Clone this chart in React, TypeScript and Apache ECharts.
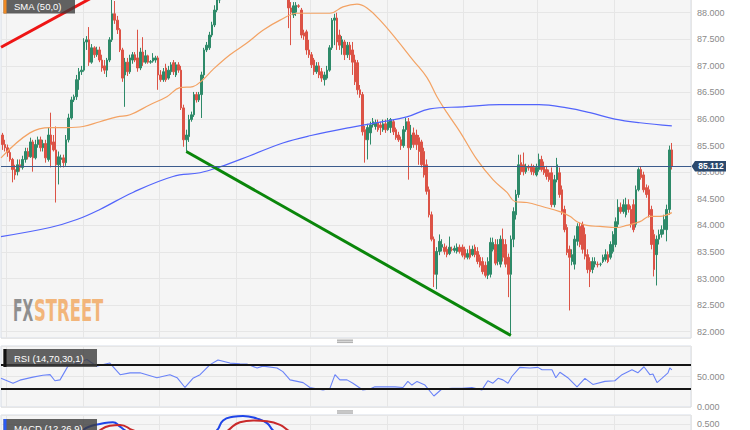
import React, { useEffect, useRef } from "react";
import * as echarts from "echarts";

// ---- candles: [open, close, low, high] ----
const candlesA: number[][] = [
  [85.70, 85.52, 85.42, 85.74], [85.52, 85.46, 85.39, 85.61], [85.46, 85.37, 85.29, 85.52], [85.37, 85.24, 85.20, 85.42], [85.24, 85.05, 84.81, 85.27],
  [85.05, 84.95, 84.86, 85.14], [85.01, 85.14, 84.94, 85.24], [85.14, 85.09, 85.01, 85.24], [85.09, 85.24, 85.05, 85.31], [85.24, 85.39, 85.18, 85.46],
  [85.39, 85.29, 85.24, 85.46], [85.29, 85.57, 85.27, 85.65], [85.57, 85.27, 85.01, 85.61], [85.27, 85.52, 85.24, 85.61], [85.52, 85.61, 85.46, 85.67],
  [85.61, 85.46, 85.39, 85.67], [85.46, 85.54, 85.39, 85.61], [85.54, 85.27, 85.18, 85.61], [85.24, 85.70, 85.20, 85.84], [85.70, 85.52, 85.09, 86.12],
  [85.57, 85.42, 85.39, 85.70], [85.42, 85.14, 84.43, 85.86], [85.14, 85.29, 84.77, 85.39], [85.24, 85.27, 85.09, 85.33], [85.27, 85.18, 85.09, 85.33],
  [85.18, 85.61, 85.12, 85.70], [85.61, 86.02, 85.56, 86.10], [86.02, 86.36, 85.99, 86.42], [86.36, 86.42, 86.32, 86.46], [86.42, 86.74, 86.36, 86.83],
  [86.74, 86.89, 86.55, 86.96], [86.89, 86.92, 86.83, 87.00], [86.92, 87.45, 86.89, 87.52], [87.45, 87.49, 87.30, 87.56], [87.49, 87.07, 87.00, 87.73],
  [87.07, 87.34, 87.04, 87.41], [87.34, 87.21, 87.15, 87.37], [87.21, 87.30, 87.17, 87.36], [87.30, 87.11, 87.07, 87.36], [87.11, 86.96, 86.89, 87.21],
  [87.00, 86.92, 86.85, 87.11], [86.92, 87.11, 86.79, 87.15], [87.11, 87.49, 87.07, 87.54], [87.49, 87.98, 87.45, 88.25], [87.98, 87.86, 87.79, 88.22],
  [87.86, 87.68, 87.60, 87.94], [87.68, 87.30, 87.26, 87.71], [87.30, 86.77, 86.70, 87.34], [86.83, 87.07, 86.23, 87.15], [87.07, 86.89, 86.81, 87.15],
  [86.89, 87.15, 86.85, 87.21], [87.11, 87.21, 87.04, 87.26], [87.21, 87.11, 87.07, 87.26], [87.15, 86.96, 86.89, 87.68], [86.96, 87.26, 86.92, 87.34],
  [87.26, 87.07, 87.00, 87.54], [87.07, 87.19, 87.04, 87.30], [87.19, 87.07, 87.04, 87.21], [87.07, 87.08, 87.04, 87.11], [87.09, 87.15, 87.06, 87.24],
  [87.11, 87.15, 87.06, 87.19], [87.15, 86.83, 86.55, 87.19], [86.83, 86.74, 86.70, 86.92], [86.74, 86.89, 86.70, 86.96], [86.96, 86.74, 86.70, 87.04],
  [86.77, 86.92, 86.74, 87.00], [86.89, 87.02, 86.83, 87.07], [87.06, 86.89, 86.83, 87.11], [86.83, 87.02, 86.79, 87.07], [87.02, 86.92, 86.87, 87.07],
  [86.92, 86.21, 86.17, 87.00], [86.21, 85.61, 85.48, 86.27], [85.61, 85.70, 85.39, 85.80], [85.67, 85.99, 85.57, 86.08], [85.99, 86.08, 85.95, 86.14],
  [86.08, 86.46, 86.04, 86.51], [86.46, 86.36, 86.31, 86.51], [86.36, 86.46, 86.32, 86.51], [86.46, 86.83, 86.02, 86.89], [86.83, 87.30, 86.77, 87.34],
  [87.30, 87.39, 87.26, 87.45], [87.34, 87.58, 87.30, 87.64], [87.58, 87.77, 87.54, 87.83], [87.77, 88.05, 87.73, 88.14], [88.05, 88.24, 88.01, 88.33],
  [88.24, 88.43, 88.18, 88.61],
];
// above the visible top of the panel
const candlesHidden: number[][] = [
  [88.43, 88.60, 88.38, 88.66], [88.60, 88.55, 88.48, 88.68], [88.55, 88.75, 88.50, 88.80], [88.75, 88.90, 88.70, 88.97], [88.90, 88.84, 88.78, 88.95],
  [88.84, 89.05, 88.80, 89.10], [89.05, 89.20, 89.00, 89.26], [89.20, 89.10, 89.05, 89.25], [89.10, 89.30, 89.06, 89.36], [89.30, 89.24, 89.18, 89.38],
  [89.24, 89.12, 89.05, 89.28], [89.12, 89.28, 89.08, 89.33], [89.28, 89.18, 89.10, 89.32], [89.18, 89.02, 88.96, 89.22], [89.02, 89.10, 88.98, 89.15],
  [89.10, 88.94, 88.88, 89.13], [88.94, 89.00, 88.90, 89.06], [89.00, 88.84, 88.78, 89.03], [88.84, 88.90, 88.80, 88.95], [88.90, 88.72, 88.66, 88.93],
  [88.72, 88.76, 88.66, 88.82], [88.76, 88.60, 88.55, 88.80], [88.60, 88.50, 88.44, 88.64], [88.50, 88.55, 88.45, 88.60], [88.55, 88.40, 88.34, 88.58],
  [88.40, 88.30, 88.27, 88.45],
];
const candlesB: number[][] = [
  [88.24, 88.09, 87.71, 88.33], [88.09, 88.01, 87.39, 88.20], [87.96, 88.13, 87.90, 88.20], [88.01, 88.14, 87.94, 88.20], [88.13, 88.12, 88.09, 88.16],
  [88.05, 87.58, 87.52, 88.09], [87.62, 87.56, 87.49, 87.68], [87.64, 87.30, 87.21, 87.68], [87.30, 87.21, 87.15, 87.49], [87.21, 87.02, 86.96, 87.26],
  [87.11, 86.89, 86.83, 87.15], [86.89, 87.00, 86.85, 87.07], [87.00, 86.83, 86.77, 87.07], [86.89, 86.77, 86.70, 86.96], [86.74, 86.83, 86.63, 86.89],
  [86.77, 86.92, 86.74, 87.00], [86.92, 87.34, 86.89, 87.39], [87.34, 87.86, 87.30, 87.90], [87.86, 87.90, 87.39, 87.98], [87.90, 87.45, 87.30, 88.00],
  [87.58, 87.39, 87.30, 87.68], [87.34, 87.49, 87.21, 87.56], [87.45, 87.21, 87.11, 87.49], [87.21, 87.39, 87.15, 87.45], [87.39, 87.21, 87.11, 87.45],
  [87.30, 87.07, 86.83, 87.45], [87.11, 86.70, 86.64, 87.21], [87.06, 86.55, 86.46, 87.11], [86.55, 86.46, 86.40, 86.64], [86.46, 85.76, 85.69, 86.51],
  [85.80, 85.61, 85.18, 85.87], [85.61, 85.84, 85.24, 85.91], [85.74, 85.89, 85.52, 85.95], [85.89, 85.95, 85.84, 86.02], [85.86, 85.93, 85.80, 85.99],
  [85.93, 85.80, 85.76, 85.99], [85.89, 85.84, 85.70, 85.95], [85.80, 85.91, 85.76, 85.99], [85.91, 85.80, 85.74, 85.99], [85.80, 85.95, 85.78, 86.02],
  [85.84, 85.99, 85.74, 86.02], [85.95, 85.76, 85.70, 85.99], [85.80, 85.65, 85.61, 85.84], [85.70, 85.61, 85.57, 85.76], [85.61, 85.50, 85.42, 85.67],
  [85.50, 85.80, 85.46, 85.87], [85.80, 85.95, 85.76, 86.02], [85.95, 85.46, 84.86, 86.02], [85.46, 85.70, 85.42, 85.89], [85.74, 85.52, 85.46, 85.84],
  [85.70, 85.52, 85.42, 85.80], [85.65, 85.39, 85.14, 85.70], [85.57, 85.14, 85.09, 85.61], [85.39, 84.95, 84.90, 85.46], [85.14, 84.64, 84.58, 85.24],
  [84.67, 84.20, 84.15, 84.73], [84.20, 83.74, 83.70, 84.26], [83.74, 83.08, 82.84, 83.79],
];
const candlesC: number[][] = [
  [83.08, 83.51, 82.80, 83.59], [83.51, 83.70, 83.44, 83.83], [83.59, 83.64, 83.51, 83.74], [83.59, 83.51, 83.45, 83.66], [83.55, 83.45, 83.40, 83.62],
  [83.47, 83.59, 83.44, 83.79], [83.55, 83.54, 83.51, 83.60], [83.53, 83.57, 83.49, 83.62], [83.51, 83.59, 83.47, 83.66], [83.59, 83.51, 83.47, 83.64],
  [83.59, 83.44, 83.40, 83.64], [83.55, 83.40, 83.36, 83.60], [83.40, 83.47, 83.36, 83.55], [83.55, 83.40, 83.36, 83.62], [83.45, 83.55, 83.42, 83.62],
  [83.59, 83.45, 83.40, 83.64], [83.51, 83.32, 83.27, 83.59], [83.40, 83.25, 83.21, 83.45], [83.32, 83.13, 83.08, 83.40], [83.25, 83.06, 83.02, 83.32],
  [83.06, 83.32, 82.99, 83.40], [83.08, 83.68, 83.02, 83.77], [83.55, 83.68, 83.51, 83.77], [83.64, 83.29, 83.25, 83.74], [83.32, 83.64, 83.25, 83.74],
  [83.27, 83.74, 83.21, 83.81], [83.74, 83.40, 83.32, 83.94], [83.64, 83.27, 83.21, 83.74], [83.40, 83.08, 82.65, 83.47], [83.08, 83.74, 81.93, 83.81],
];
const candlesD: number[][] = [
  [83.74, 84.26, 83.59, 84.34], [84.20, 84.58, 84.11, 84.67], [84.58, 85.14, 84.52, 85.33], [85.18, 85.01, 84.95, 85.33], [85.14, 85.01, 84.94, 85.37],
  [85.01, 85.09, 84.97, 85.16], [85.09, 85.08, 85.03, 85.14], [85.11, 85.01, 84.95, 85.16], [85.09, 84.99, 84.94, 85.14], [84.95, 85.09, 84.92, 85.16],
  [85.05, 85.24, 85.01, 85.35], [85.24, 85.05, 85.01, 85.31], [85.11, 84.99, 84.95, 85.20], [85.05, 84.92, 84.86, 85.12], [84.99, 84.86, 84.82, 85.05],
  [84.99, 84.39, 84.34, 85.09], [84.39, 84.86, 84.34, 84.95], [84.86, 85.14, 84.81, 85.27], [84.99, 84.58, 84.52, 85.09], [84.67, 84.26, 84.20, 84.75],
  [84.30, 83.92, 83.87, 84.37], [83.96, 83.49, 83.44, 84.02], [83.55, 83.40, 82.40, 83.62], [83.32, 83.45, 83.25, 83.55], [83.27, 83.74, 83.17, 83.81],
  [83.70, 83.98, 83.62, 84.04], [83.98, 83.64, 83.59, 84.05], [84.02, 83.55, 83.47, 84.07], [83.83, 83.42, 83.36, 83.96], [83.45, 83.17, 83.10, 83.55],
  [83.32, 83.13, 82.84, 83.40], [83.17, 83.32, 83.10, 83.40], [83.27, 83.32, 83.21, 83.40], [83.27, 83.26, 83.21, 83.32], [83.27, 83.27, 83.23, 83.30],
  [83.32, 83.40, 83.29, 83.45], [83.36, 83.45, 83.32, 83.55], [83.45, 83.32, 83.29, 83.51], [83.40, 83.64, 83.36, 83.70], [83.51, 83.83, 83.47, 83.89],
  [83.64, 84.07, 83.59, 84.15], [84.02, 84.34, 83.96, 84.49], [84.34, 84.26, 84.22, 84.43], [84.26, 84.39, 84.22, 84.49], [84.20, 84.39, 84.15, 84.52],
  [84.39, 84.30, 84.24, 84.49], [84.30, 84.02, 83.96, 84.37], [84.39, 83.92, 83.87, 84.49], [84.02, 84.67, 83.96, 84.75], [84.67, 85.05, 84.64, 85.09],
  [85.05, 84.90, 84.86, 85.11], [84.95, 84.67, 84.62, 85.01], [84.71, 84.58, 84.52, 84.77], [84.67, 84.20, 84.15, 84.75], [84.30, 83.64, 83.55, 84.37],
  [83.83, 83.17, 83.04, 83.92], [83.45, 83.74, 82.87, 83.81], [83.74, 83.83, 83.64, 83.92], [83.83, 83.92, 83.77, 84.00], [83.92, 84.11, 83.83, 84.20],
  [83.92, 84.30, 83.70, 84.39], [84.30, 85.42, 84.20, 85.50], [85.42, 85.112, 85.05, 85.55],
];

// ---- overlays: [candle index, value] ----
const sma50: number[][] = [
  [-0.5, 85.27], [10.8, 85.74], [18.7, 85.84], [25.3, 85.84], [31.6, 85.86], [38.2, 85.95], [44.9, 86.04], [50, 86.08],
  [57.8, 86.27], [64.4, 86.42], [69.5, 86.59], [74.6, 86.61], [78.5, 86.74], [82.4, 86.93], [89.1, 87.21], [95.7, 87.43],
  [102, 87.67], [108.7, 87.86], [115.3, 87.99], [121.6, 87.99], [128.2, 87.99], [133.3, 88.11], [138.8, 88.16], [142.7, 88.09],
  [147.8, 87.86], [154.4, 87.49], [160.7, 87.11], [166.2, 86.78], [170.1, 86.42], [174, 86.12], [179.1, 85.76], [185.7, 85.24],
  [192, 84.86], [197.5, 84.62], [200.6, 84.45], [205.3, 84.43], [211.6, 84.35], [218.2, 84.26], [222.1, 84.17], [224.9, 84.07],
  [228.8, 84.0], [233.9, 83.98], [240.5, 83.96], [244.4, 84.0], [249.5, 84.07], [253.4, 84.17], [257.3, 84.17], [262, 84.24],
];
const sma200: number[][] = [
  [-0.5, 83.79], [18.7, 83.96], [29.2, 84.11], [38.2, 84.3], [51.1, 84.62], [66.8, 84.92], [77.4, 84.99], [85.2, 85.1],
  [96.9, 85.31], [109.8, 85.55], [120.8, 85.69], [136, 85.84], [149, 85.95], [158.3, 86.04], [167.3, 86.19], [180.3, 86.23],
  [194.7, 86.27], [210, 86.27], [221, 86.21], [230, 86.12], [239.7, 86.0], [249.5, 85.93], [262, 85.87],
];
const redTrend: number[][] = [[-0.5, 87.35], [38, 88.36]];
const greenTrend: number[][] = [[72, 85.39], [199, 81.93]];
const lastPrice = 85.112;

const rsi: number[][] = [
  [-0.5, 47], [4.2, 39], [6.9, 44], [12, 49], [15.9, 52], [18.7, 53], [20.6, 43], [22.6, 44.5], [25.7, 67], [29.2, 72],
  [33.1, 78], [37, 67], [42.1, 72], [46.1, 53], [50, 56], [53.9, 56], [60.5, 48], [65.6, 53], [68.4, 48], [71.5, 32],
  [74.6, 47], [77.4, 53], [81.3, 69.5], [84.4, 77], [89.1, 72], [93, 71], [95.7, 70.5], [99.7, 64], [102, 67], [107.5, 64],
  [109.8, 58], [112.6, 44.5], [117.7, 40], [120.4, 32], [125.5, 28], [128.2, 30.5], [130.2, 53], [132.1, 44.5], [134.9, 44.5], [137.2, 39],
  [141.1, 28], [143.9, 29.5], [145.8, 33], [153.7, 33], [156.8, 32], [158.7, 42], [160.3, 36], [162.3, 42], [165.4, 36], [168.9, 18],
  [172, 29.5], [176, 30.5], [179.9, 30.5], [183.8, 32], [187.7, 28], [190, 43], [192, 39], [194, 47], [195.9, 44.5], [197.9, 39],
  [199.4, 50], [202.5, 65], [206.5, 64], [209.6, 65], [211.2, 61], [215.1, 61], [216.6, 48], [218.2, 57], [221.3, 48], [224.9, 33],
  [228, 47], [231.1, 37], [235.8, 42], [239.7, 43], [242.5, 53], [246.4, 61], [248.7, 56], [251.1, 66], [253.4, 53], [254.6, 54],
  [256.2, 40], [258.1, 47], [260.5, 56], [261.2, 64], [262, 61],
];
const rsiLevels = [70, 30];

const macdLine: number[][] = [
  [-0.5, 0.05], [15, 0.0], [25, 0.2], [31.6, 0.43], [35, 0.48], [38.2, 0.5], [43.3, 0.52], [46.1, 0.47], [48, 0.43], [55, 0.3],
  [70, 0.2], [80, 0.35], [84, 0.43], [86.4, 0.54], [90.3, 0.58], [94.2, 0.59], [99.7, 0.56], [103.6, 0.51], [105.9, 0.43], [115, 0.2],
  [140, -0.1], [170, -0.45], [200, -0.3], [225, 0.0], [245, -0.1], [262, 0.2],
];
const macdSignal: number[][] = [
  [-0.5, 0.1], [20, 0.05], [30, 0.25], [38.2, 0.43], [42.1, 0.48], [46.1, 0.49], [51.1, 0.43], [60, 0.35], [75, 0.25], [85, 0.35],
  [88.4, 0.43], [93, 0.52], [98.2, 0.54], [103.6, 0.53], [108.7, 0.49], [111.8, 0.43], [125, 0.2], [150, -0.1], [175, -0.35], [205, -0.3],
  [230, -0.05], [262, 0.05],
];

// session boundaries (candle index where a new period starts)
const sessionStarts = [2, 32, 62, 92, 121, 151, 181, 210, 240];
const SLOTS = 270;

const candles = [...candlesA, ...candlesHidden, ...candlesB, ...candlesC, ...candlesD];
const categories = Array.from({ length: SLOTS }, (_, i) => String(i));

const FONT = "'Liberation Sans', Arial, sans-serif";
const UP = "#2e8a69";
const DOWN = "#dc5346";
const GRID_LINE = "#e6e6e6";

function catAxis(gridIndex: number) {
  return {
    type: "category",
    gridIndex,
    data: categories,
    boundaryGap: true,
    axisLine: { show: false },
    axisTick: { show: false },
    axisLabel: { show: false },
    splitLine: {
      show: true,
      interval: (i: number) => sessionStarts.includes(i),
      lineStyle: { color: GRID_LINE, width: 1 },
    },
  };
}
function valAxisX(gridIndex: number) {
  return { type: "value", gridIndex, min: -0.5, max: SLOTS - 0.5, show: false };
}
const yLabel = {
  color: "#8a8a8a",
  fontSize: 9,
  fontFamily: FONT,
  margin: 6,
  formatter: (v: number) => v.toFixed(3),
};
const gridBase = {
  left: 1, width: 690, show: true, backgroundColor: "#f5f5f5", borderColor: "#d6dce6", borderWidth: 1,
  containLabel: false, outerBoundsMode: "none",
};

const option: any = {
  animation: false,
  backgroundColor: "#ffffff",
  grid: [
    { ...gridBase, top: -1, height: 339 },
    { ...gridBase, top: 346, height: 61 },
    { ...gridBase, top: 415, height: 99 },
  ],
  xAxis: [catAxis(0), valAxisX(0), catAxis(1), valAxisX(1), catAxis(2), valAxisX(2)],
  yAxis: [
    {
      type: "value", gridIndex: 0, position: "right", min: 81.882, max: 88.258, splitNumber: 12,
      minInterval: 0.5, maxInterval: 0.5,
      axisLine: { show: false }, axisTick: { show: false },
      axisLabel: { ...yLabel, showMinLabel: false, showMaxLabel: false },
      splitLine: { show: true, lineStyle: { color: GRID_LINE, width: 1 } },
    },
    {
      type: "value", gridIndex: 1, position: "right", min: 0, max: 100, interval: 50,
      axisLine: { show: false }, axisTick: { show: false },
      axisLabel: { ...yLabel, showMaxLabel: false },
      splitLine: { show: true, lineStyle: { color: GRID_LINE, width: 1 } },
    },
    {
      type: "value", gridIndex: 2, position: "right", min: -0.5, max: 0.6, interval: 0.5,
      axisLine: { show: false }, axisTick: { show: false },
      axisLabel: { ...yLabel, showMaxLabel: false },
      splitLine: { show: true, lineStyle: { color: GRID_LINE, width: 1 } },
    },
  ],
  series: [
    {
      type: "candlestick",
      xAxisIndex: 0, yAxisIndex: 0,
      data: candles,
      barWidth: 2,
      itemStyle: { color: UP, color0: DOWN, borderColor: UP, borderColor0: DOWN, borderWidth: 1 },
      markLine: {
        silent: true, symbol: ["none", "none"], label: { show: false },
        lineStyle: { color: "#3b5b8c", width: 1, type: "solid" },
        data: [{ yAxis: lastPrice }],
      },
    },
    {
      type: "line", xAxisIndex: 1, yAxisIndex: 0, data: sma50, showSymbol: false, smooth: 0.4,
      lineStyle: { color: "#f3a263", width: 1.2 }, silent: true,
    },
    {
      type: "line", xAxisIndex: 1, yAxisIndex: 0, data: sma200, showSymbol: false, smooth: 0.4,
      lineStyle: { color: "#5264fb", width: 1.2 }, silent: true,
    },
    {
      type: "line", xAxisIndex: 1, yAxisIndex: 0, data: redTrend, showSymbol: false,
      lineStyle: { color: "#ee1515", width: 3 }, silent: true,
    },
    {
      type: "line", xAxisIndex: 1, yAxisIndex: 0, data: greenTrend, showSymbol: false,
      lineStyle: { color: "#0a860a", width: 3 }, silent: true,
    },
    {
      type: "line", xAxisIndex: 3, yAxisIndex: 1, data: rsi, showSymbol: false,
      lineStyle: { color: "#6a83f8", width: 1.1 }, silent: true,
      markLine: {
        silent: true, symbol: ["none", "none"], label: { show: false },
        lineStyle: { color: "#151515", width: 2, type: "solid" },
        data: rsiLevels.map((v) => ({ yAxis: v })),
      },
    },
    {
      type: "line", xAxisIndex: 5, yAxisIndex: 2, data: macdLine, showSymbol: false, smooth: 0.5,
      lineStyle: { color: "#1f45e8", width: 2 }, silent: true,
    },
    {
      type: "line", xAxisIndex: 5, yAxisIndex: 2, data: macdSignal, showSymbol: false, smooth: 0.5,
      lineStyle: { color: "#c92a2a", width: 2 }, silent: true,
    },
  ],
};

function labelBox(y: number, h: number, barColor: string, text: string, textY: number, w: number) {
  return [
    { type: "rect", z: 10, shape: { x: 3.5, y, width: w, height: h }, style: { fill: "rgba(60,60,60,0.8)" } },
    { type: "rect", z: 11, shape: { x: 3.5, y, width: 3, height: h }, style: { fill: barColor } },
    {
      type: "text", z: 12, x: 14, y: textY,
      style: { text, fill: "#ffffff", font: `9.5px ${FONT}`, align: "left", verticalAlign: "middle", textAlign: "left", textVerticalAlign: "middle" },
    },
  ];
}
function handle(y: number) {
  return [
    { type: "rect", z: 10, shape: { x: 337, y, width: 16, height: 3.6 }, style: { fill: "#b3b3b3" } },
    { type: "rect", z: 11, shape: { x: 337, y: y + 1.4, width: 16, height: 0.8 }, style: { fill: "#e6e6e6" } },
  ];
}

export default function App() {
  const ref = useRef<HTMLDivElement>(null);
  useEffect(() => {
    const chart = echarts.init(ref.current!, undefined, { renderer: "svg" });
    chart.setOption(option);
    const py = chart.convertToPixel({ yAxisIndex: 0 }, lastPrice) as number;
    const elements: any[] = [
      ...labelBox(-5, 18.5, "#f08a24", "SMA (50,0)", 6.3, 71.5),
      ...labelBox(349, 18, "#111111", "RSI (14,70,30,1)", 358.6, 93.5),
      ...labelBox(419, 18, "#2a5bf5", "MACD (12,26,9)", 428.6, 93.5),
      ...handle(339.5),
      ...handle(410.2),
      {
        type: "text", z: 1, x: 13, y: 310.5, scaleX: 0.45,
        style: { text: "FX", fill: "#8f8f8f", font: "bold 31px 'DejaVu Sans', sans-serif", align: "left", verticalAlign: "middle", textAlign: "left", textVerticalAlign: "middle" },
      },
      {
        type: "text", z: 1, x: 34, y: 310.5, scaleX: 0.53,
        style: { text: "STREET", fill: "#f2b57a", font: "bold 31px 'DejaVu Sans', sans-serif", align: "left", verticalAlign: "middle", textAlign: "left", textVerticalAlign: "middle" },
      },
      {
        type: "polygon", z: 20,
        shape: { points: [[691.5, py], [695, py - 5.3], [726, py - 5.3], [726, py + 5.3], [695, py + 5.3]] },
        style: { fill: "#2c4a6e" },
      },
      {
        type: "text", z: 21, x: 711, y: py,
        style: { text: lastPrice.toFixed(3), fill: "#ffffff", font: `bold 8.5px ${FONT}`, align: "center", verticalAlign: "middle", textAlign: "center", textVerticalAlign: "middle" },
      },
    ];
    chart.setOption({ graphic: { elements } });
    return () => chart.dispose();
  }, []);
  return <div ref={ref} style={{ position: "fixed", left: 0, top: 0, width: 750, height: 430, background: "#ffffff" }} />;
}
